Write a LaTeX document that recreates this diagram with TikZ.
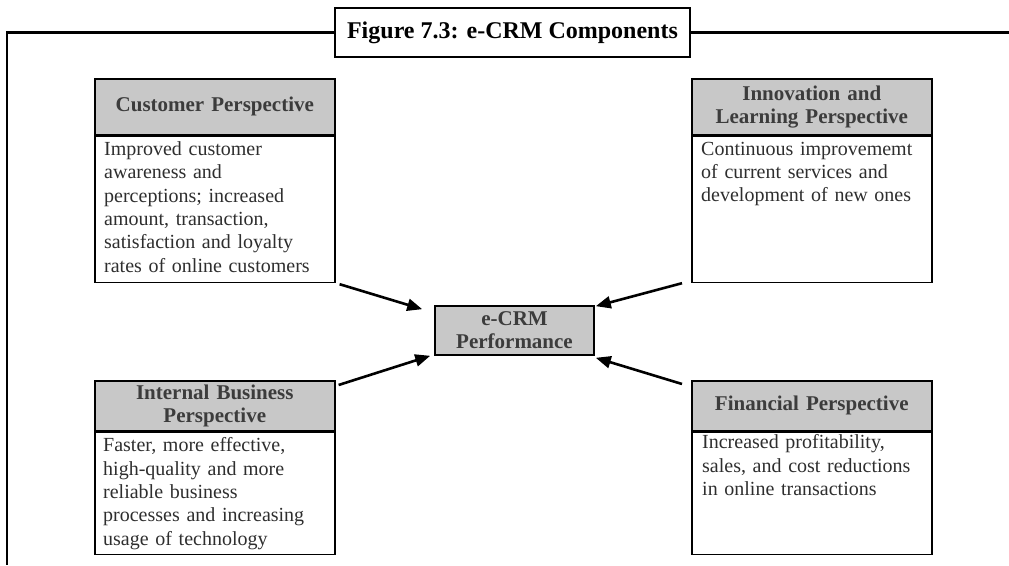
\documentclass[tikz,border=0pt]{standalone}
\usepackage{fontspec}
\setmainfont{Liberation Serif}
\usetikzlibrary{arrows.meta,calc}
\definecolor{hdrfill}{HTML}{C8C8C8}
\definecolor{hdrtext}{HTML}{3C3C3C}
\definecolor{bodytext}{HTML}{2E2E2E}
\begin{document}
\begin{tikzpicture}[x=1pt,y=1pt,
  hdr/.style={draw=black,line width=1.6pt,fill=hdrfill,minimum width=240pt,text width=232pt,
    align=center,inner sep=0pt,font=\fontsize{21}{23}\selectfont\bfseries,text=hdrtext,anchor=north west},
  bodybox/.style={draw=black,line width=1.6pt,minimum width=240pt,inner sep=0pt,anchor=north west},
  bodytxt/.style={text width=226pt,align=left,inner sep=0pt,anchor=north west,
    font=\fontsize{20}{23.3}\selectfont,text=bodytext},
  perfbox/.style={draw=black,line width=1.6pt,fill=hdrfill,minimum width=159pt,minimum height=49pt,
    align=center,inner sep=0pt,font=\fontsize{21}{23}\selectfont\bfseries,text=hdrtext},
  titlebox/.style={draw=black,line width=2pt,fill=white,minimum width=355pt,minimum height=49pt,
    inner sep=0pt,font=\fontsize{24}{26}\selectfont\bfseries},
  framel/.style={line width=2.4pt},
  arr/.style={line width=2.6pt,-{Triangle[length=15pt,width=12pt]}}
]
\useasboundingbox (0,0) rectangle (1009,565);
% title and frame
\node[titlebox] (title) at (512.5,532.5) {Figure 7.3: e-CRM Components};
\coordinate (fl) at (7,532.5);
\coordinate (fb) at (7,0);
\coordinate (fr) at (1009,532.5);
\draw[framel] (title.west) -- (fl) -- (fb);
\draw[framel] (title.east) -- (fr);

% Customer
\node[hdr,minimum height=56pt] (ch) at (94,487) {Customer Perspective};
\node[bodybox,minimum height=146pt] (cb) at (ch.south west) {};
\node[bodytxt] (ct) at ($(cb.north west)+(10,-6)$) {Improved customer\\awareness and\\perceptions; increased\\amount, transaction,\\satisfaction and loyalty\\rates of online customers};

% Innovation
\node[hdr,minimum height=56pt] (ih) at (691,487) {Innovation and\\Learning Perspective};
\node[bodybox,minimum height=146pt] (ib) at (ih.south west) {};
\node[bodytxt] (it) at ($(ib.north west)+(10,-6)$) {Continuous improvememt\\of current services and\\development of new ones};

% Internal
\node[hdr,minimum height=50pt] (nh) at (94,185) {Internal Business\\Perspective};
\node[bodybox,minimum height=122pt] (nb) at (nh.south west) {};
\node[bodytxt] (nt) at ($(nb.north west)+(9,-6)$) {Faster, more effective,\\high-quality and more\\reliable business\\processes and increasing\\usage of technology};

% Financial
\node[hdr,minimum height=50pt] (fh) at (691,185) {Financial Perspective};
\node[bodybox,minimum height=122pt] (fn) at (fh.south west) {};
\node[bodytxt] (ft) at ($(fn.north west)+(11,-3)$) {Increased profitability,\\sales, and cost reductions\\in online transactions};

% Center
\node[perfbox] (perf) at (514.5,234.5) {e-CRM\\Performance};

% arrows
\draw[arr] ($(cb.south east)+(4,-1)$) -- ($(perf.north west)+(-12,-4)$);
\draw[arr] ($(ib.south west)+(-9,0)$) -- ($(perf.north east)+(1,-1)$);
\draw[arr] ($(nh.north east)+(3,-5)$) -- ($(perf.south west)+(-4,0)$);
\draw[arr] ($(fh.north west)+(-9,-4)$) -- ($(perf.south east)+(1,-2)$);
\end{tikzpicture}
\end{document}
